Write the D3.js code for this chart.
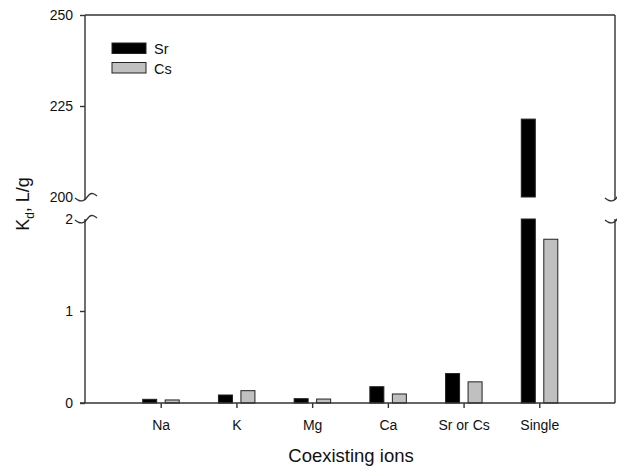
<!DOCTYPE html>
<html>
<head>
<meta charset="utf-8">
<script src="https://cdn.jsdelivr.net/npm/d3@7"></script>
<style>
  html, body { margin: 0; padding: 0; background: #fff; }
  svg { display: block; font-family: "Liberation Sans", Arial, sans-serif; }
</style>
</head>
<body>
<svg id="chart" width="617" height="468"></svg>
<script>
// Distribution coefficients (Kd, L/g) for Sr and Cs with coexisting ions
const categories = ["Na", "K", "Mg", "Ca", "Sr or Cs", "Single"];
const srValues = [0.04, 0.087, 0.047, 0.177, 0.32, 221.4];
const csValues = [0.033, 0.134, 0.043, 0.098, 0.23, 1.78];
const seriesNames = ["Sr", "Cs"];
const seriesColors = ["#000000", "#c0c0c0"];
const upperTicks = [200, 225, 250];
const lowerTicks = [0, 1, 2];

(function () {
const svg = d3.select("#chart");
const plotLeft = 85, plotRight = 615, plotTop = 15, plotBottom = 403;
const upperBottom = 197, lowerTop = 219;
const axisColor = "#333";

const x = d3.scalePoint().domain(categories).range([plotLeft, plotRight]).padding(1);
const yUpper = d3.scaleLinear().domain([200, 250]).range([upperBottom, plotTop]);
const yLower = d3.scaleLinear().domain([0, 2]).range([plotBottom, lowerTop]);

const barW = 14;
const offsets = [-18, 4.5];

// Bars (split across the axis break where needed)
const series = [srValues, csValues];
series.forEach((vals, si) => {
  const g = svg.append("g");
  vals.forEach((v, i) => {
    const bx = x(categories[i]) + offsets[si];
    const segs = [];
    if (v <= 2) {
      segs.push([yLower(v), yLower(0)]);
    } else {
      segs.push([yLower(2), yLower(0)]);
      segs.push([yUpper(v), yUpper(200)]);
    }
    segs.forEach(([y0, y1]) => {
      g.append("rect")
        .attr("x", bx).attr("y", y0)
        .attr("width", barW).attr("height", y1 - y0)
        .attr("fill", seriesColors[si])
        .attr("stroke", "#222").attr("stroke-width", 1);
    });
  });
});

// Frame: top line, left/right axes in two segments
const frame = svg.append("g").attr("stroke", axisColor).attr("stroke-width", 1.4).attr("fill", "none");
frame.append("line").attr("x1", plotLeft).attr("x2", plotRight).attr("y1", plotTop).attr("y2", plotTop);
[plotLeft, plotRight].forEach(ax => {
  frame.append("line").attr("x1", ax).attr("x2", ax).attr("y1", plotTop).attr("y2", upperBottom + 3);
  frame.append("line").attr("x1", ax).attr("x2", ax).attr("y1", lowerTop).attr("y2", plotBottom);
});

// Break marks on both vertical axes
const wave = d3.line().curve(d3.curveBasis);
function breakMark(cx, cy) {
  const pts = [[-10, 1], [-6, 4], [-2, 4], [1, 2], [4, -3], [8, -4], [12, -1]];
  return wave(pts.map(([dx, dy]) => [cx + dx, cy + dy]));
}
[plotLeft, plotRight].forEach(ax => {
  frame.append("path").attr("d", breakMark(ax, upperBottom));
  frame.append("path").attr("d", breakMark(ax, lowerTop));
});

// Y axes (left ticks and labels); the break marks stand in for the ticks at the break
const yAxisUpper = d3.axisLeft(yUpper).tickValues(upperTicks).tickSize(5).tickFormat(d3.format("d"));
const yAxisLower = d3.axisLeft(yLower).tickValues(lowerTicks).tickSize(5).tickFormat(d3.format("d"));
[[yAxisUpper, 200], [yAxisLower, 2]].forEach(([ax, breakVal]) => {
  const g = svg.append("g").attr("transform", `translate(${plotLeft},0)`).call(ax);
  g.select(".domain").remove();
  g.selectAll(".tick line").attr("stroke", axisColor).attr("stroke-width", 1.4)
    .attr("display", d => d === breakVal ? "none" : null);
  g.selectAll(".tick text").attr("font-size", 14).attr("fill", "#111")
    .attr("font-family", "Liberation Sans, Arial, sans-serif").attr("x", -12);
});

// X axis
const xAxis = d3.axisBottom(x).tickSize(5).tickSizeOuter(0);
const xg = svg.append("g").attr("transform", `translate(0,${plotBottom})`).call(xAxis);
xg.select(".domain").remove();
xg.selectAll(".tick line").attr("stroke", axisColor).attr("stroke-width", 1.4);
xg.selectAll(".tick text").attr("font-size", 14).attr("fill", "#111")
  .attr("font-family", "Liberation Sans, Arial, sans-serif").attr("y", 17);
svg.append("line").attr("x1", plotLeft - 5).attr("x2", plotRight).attr("y1", plotBottom).attr("y2", plotBottom)
  .attr("stroke", axisColor).attr("stroke-width", 1.4);

// Axis titles
svg.append("text").attr("x", 351).attr("y", 462).attr("text-anchor", "middle")
  .attr("font-size", 18.5).attr("fill", "#111").text("Coexisting ions");
const yt = svg.append("text").attr("transform", "translate(29,204) rotate(-90)")
  .attr("text-anchor", "middle").attr("font-size", 18).attr("fill", "#111");
yt.append("tspan").text("K");
yt.append("tspan").attr("font-size", 12).attr("dy", 5).text("d");
yt.append("tspan").attr("dy", -5).text(", L/g");

// Legend
const legend = svg.append("g");
seriesNames.forEach((name, i) => {
  const ly = 43 + i * 19.5;
  legend.append("rect").attr("x", 112).attr("y", ly).attr("width", 34).attr("height", 10.5)
    .attr("fill", seriesColors[i]).attr("stroke", "#222").attr("stroke-width", 1);
  legend.append("text").attr("x", 154).attr("y", ly + 11).attr("font-size", 14.5)
    .attr("fill", "#111").text(name);
});
})();
</script>
</body>
</html>
